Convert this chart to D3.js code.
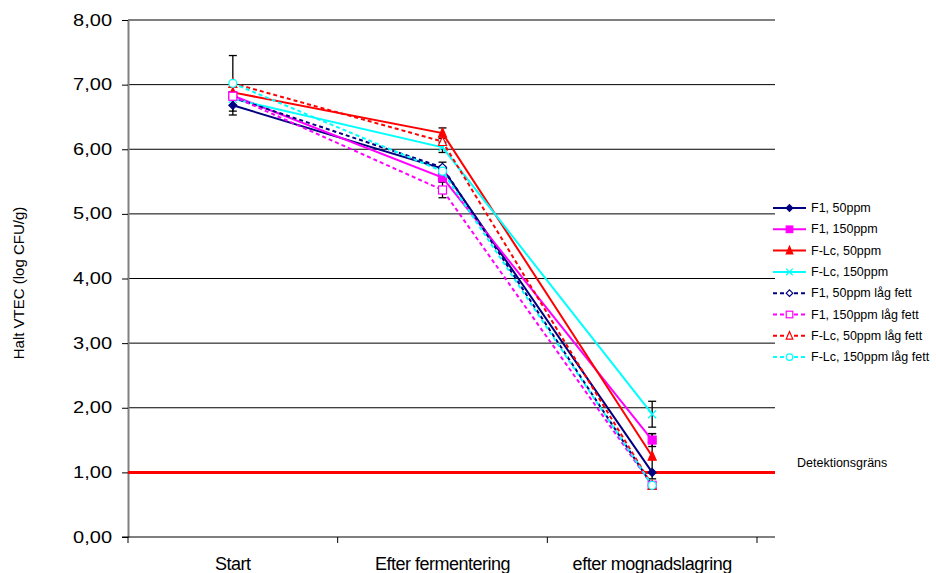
<!DOCTYPE html>
<html>
<head>
<meta charset="utf-8">
<script src="https://cdn.jsdelivr.net/npm/d3@7"></script>
<style>
  body { margin: 0; background: #fff; }
  svg { font-family: "Liberation Sans", Arial, sans-serif; }
</style>
</head>
<body>
<svg id="chart" width="936" height="573"></svg>
<script>
// --- data ---
const categories = ["Start", "Efter fermentering", "efter mognadslagring"];
const yTicks = [0, 1, 2, 3, 4, 5, 6, 7, 8];
const seriesNames = [
  "F1, 50ppm", "F1, 150ppm", "F-Lc, 50ppm", "F-Lc, 150ppm",
  "F1, 50ppm låg fett", "F1, 150ppm låg fett", "F-Lc, 50ppm låg fett", "F-Lc, 150ppm låg fett"
];
const f1_50      = [6.68, 5.70, 1.00];
const f1_150     = [6.83, 5.56, 1.50];
const flc_50     = [6.88, 6.25, 1.25];
const flc_150    = [6.78, 6.03, 1.90];
const f1_50_lf   = [6.80, 5.72, 0.80];
const f1_150_lf  = [6.82, 5.37, 0.80];
const flc_50_lf  = [7.02, 6.12, 0.80];
const flc_150_lf = [7.02, 5.66, 0.80];
// error bar half-widths (null = none shown)
const f1_50_err      = [0.15, 0.10, null];
const f1_150_err     = [null, null, 0.10];
const flc_50_err     = [null, 0.08, 0.35];
const flc_150_err    = [null, 0.08, 0.20];
const f1_150_lf_err  = [null, 0.12, null];
const flc_150_lf_err = [0.43, null, null];
const detectionLimit = 1.0;
const detectionLabel = "Detektionsgräns";
const yTitle = "Halt VTEC (log CFU/g)";

const series = [
  { name: seriesNames[0], values: f1_50,      err: f1_50_err,      color: "#000080", dash: null,  sym: "diamond",  fill: true },
  { name: seriesNames[1], values: f1_150,     err: f1_150_err,     color: "#ff00ff", dash: null,  sym: "square",   fill: true },
  { name: seriesNames[2], values: flc_50,     err: flc_50_err,     color: "#ff0000", dash: null,  sym: "triangle", fill: true },
  { name: seriesNames[3], values: flc_150,    err: flc_150_err,    color: "#00ffff", dash: null,  sym: "x",        fill: false },
  { name: seriesNames[4], values: f1_50_lf,   err: null,           color: "#000080", dash: "4,3", sym: "diamond",  fill: false },
  { name: seriesNames[5], values: f1_150_lf,  err: f1_150_lf_err,  color: "#ff00ff", dash: "4,3", sym: "square",   fill: false },
  { name: seriesNames[6], values: flc_50_lf,  err: null,           color: "#ff0000", dash: "4,3", sym: "triangle", fill: false },
  { name: seriesNames[7], values: flc_150_lf, err: flc_150_lf_err, color: "#00ffff", dash: "4,3", sym: "circle",   fill: false }
];

// --- layout ---
const svg = d3.select("#chart");
const plotLeft = 128, plotRight = 757, gridRight = 775, plotTop = 20, plotBottom = 537;

const x = d3.scaleBand().domain(categories).range([plotLeft, plotRight]);
const y = d3.scaleLinear().domain([0, 8]).range([plotBottom, plotTop]);
const fmt = d => d.toFixed(2).replace(".", ",");

// gridlines
svg.append("g").selectAll("line").data(yTicks.filter(d => d > 0)).join("line")
  .attr("x1", plotLeft).attr("x2", gridRight)
  .attr("y1", d => y(d)).attr("y2", d => y(d))
  .attr("stroke", "#000").attr("stroke-width", 1);

// y axis
const yAxis = svg.append("g").attr("transform", `translate(${plotLeft},0)`)
  .call(d3.axisLeft(y).tickValues(yTicks).tickFormat(fmt).tickSize(6).tickSizeOuter(0));
yAxis.select(".domain").attr("stroke", "#808080").attr("stroke-width", 2);
yAxis.selectAll(".tick line").attr("stroke", "#000");
yAxis.selectAll("text").attr("font-size", 16).attr("fill", "#000")
  .attr("x", -16 / 1.25).attr("transform", "scale(1.25,1)");

// x axis
const xAxis = svg.append("g").attr("transform", `translate(0,${plotBottom})`)
  .call(d3.axisBottom(x).tickSize(0));
xAxis.select(".domain").remove();
xAxis.append("line").attr("x1", plotLeft - 6).attr("x2", gridRight)
  .attr("stroke", "#000").attr("stroke-width", 1);
xAxis.selectAll(".tick text").attr("font-size", 18).attr("fill", "#000")
  .attr("y", 20).attr("letter-spacing", "-0.5px");
const bounds = [plotLeft, ...categories.slice(1).map(c => x(c)), plotRight];
xAxis.append("g").selectAll("line").data(bounds).join("line")
  .attr("x1", d => d).attr("x2", d => d).attr("y1", 0).attr("y2", 6)
  .attr("stroke", "#000");

// y title
svg.append("text")
  .attr("transform", `translate(24,283) rotate(-90)`)
  .attr("text-anchor", "middle").attr("font-size", 15).text(yTitle);

// detection limit
svg.append("line")
  .attr("x1", plotLeft).attr("x2", gridRight)
  .attr("y1", y(detectionLimit)).attr("y2", y(detectionLimit))
  .attr("stroke", "#ff0000").attr("stroke-width", 3);
svg.append("text").attr("x", 797).attr("y", y(detectionLimit) - 5)
  .attr("font-size", 12.5).text(detectionLabel);

// markers
function marker(g, s, cx, cy, size) {
  const stroke = s.color;
  const fill = s.fill ? s.color : "#fff";
  if (s.sym === "diamond") {
    g.append("path").attr("d", `M${cx},${cy - size}L${cx + size},${cy}L${cx},${cy + size}L${cx - size},${cy}Z`)
      .attr("fill", fill).attr("stroke", stroke).attr("stroke-width", 1.2);
  } else if (s.sym === "square") {
    g.append("rect").attr("x", cx - size).attr("y", cy - size)
      .attr("width", size * 2).attr("height", size * 2)
      .attr("fill", fill).attr("stroke", stroke).attr("stroke-width", 1.2);
  } else if (s.sym === "triangle") {
    g.append("path").attr("d", `M${cx},${cy - size - 1}L${cx + size},${cy + size}L${cx - size},${cy + size}Z`)
      .attr("fill", fill).attr("stroke", stroke).attr("stroke-width", 1.2);
  } else if (s.sym === "x") {
    g.append("path").attr("d", `M${cx - size},${cy - size}L${cx + size},${cy + size}M${cx - size},${cy + size}L${cx + size},${cy - size}`)
      .attr("stroke", stroke).attr("stroke-width", 1.3);
  } else if (s.sym === "circle") {
    g.append("circle").attr("cx", cx).attr("cy", cy).attr("r", size)
      .attr("fill", fill).attr("stroke", stroke).attr("stroke-width", 1.2);
  }
}

const cx = c => x(c) + x.bandwidth() / 2;
const line = d3.line().x((d, i) => cx(categories[i])).y(d => y(d));

// error bars
const errG = svg.append("g");
series.forEach(s => {
  if (!s.err) return;
  s.err.forEach((e, i) => {
    if (e == null) return;
    const px = cx(categories[i]);
    const lo = y(s.values[i] - e), hi = y(s.values[i] + e);
    errG.append("line").attr("x1", px).attr("x2", px).attr("y1", lo).attr("y2", hi)
      .attr("stroke", "#000").attr("stroke-width", 1.3);
    [lo, hi].forEach(v => errG.append("line").attr("x1", px - 4).attr("x2", px + 4)
      .attr("y1", v).attr("y2", v).attr("stroke", "#000").attr("stroke-width", 1.3));
  });
});

// series lines + markers
series.forEach(s => {
  const g = svg.append("g");
  g.append("path").datum(s.values).attr("d", line)
    .attr("fill", "none").attr("stroke", s.color).attr("stroke-width", 2)
    .attr("stroke-dasharray", s.dash);
  s.values.forEach((v, i) => marker(g, s, cx(categories[i]), y(v), 4));
});

// legend
const legend = svg.append("g");
series.forEach((s, i) => {
  const ly = 208 + i * 21.3;
  const g = legend.append("g");
  g.append("line").attr("x1", 773).attr("x2", 806).attr("y1", ly).attr("y2", ly)
    .attr("stroke", s.color).attr("stroke-width", 2).attr("stroke-dasharray", s.dash);
  marker(g, s, 789.5, ly, 3.3);
  g.append("text").attr("x", 811).attr("y", ly + 4).attr("font-size", 12.5).text(s.name);
});
</script>
</body>
</html>
